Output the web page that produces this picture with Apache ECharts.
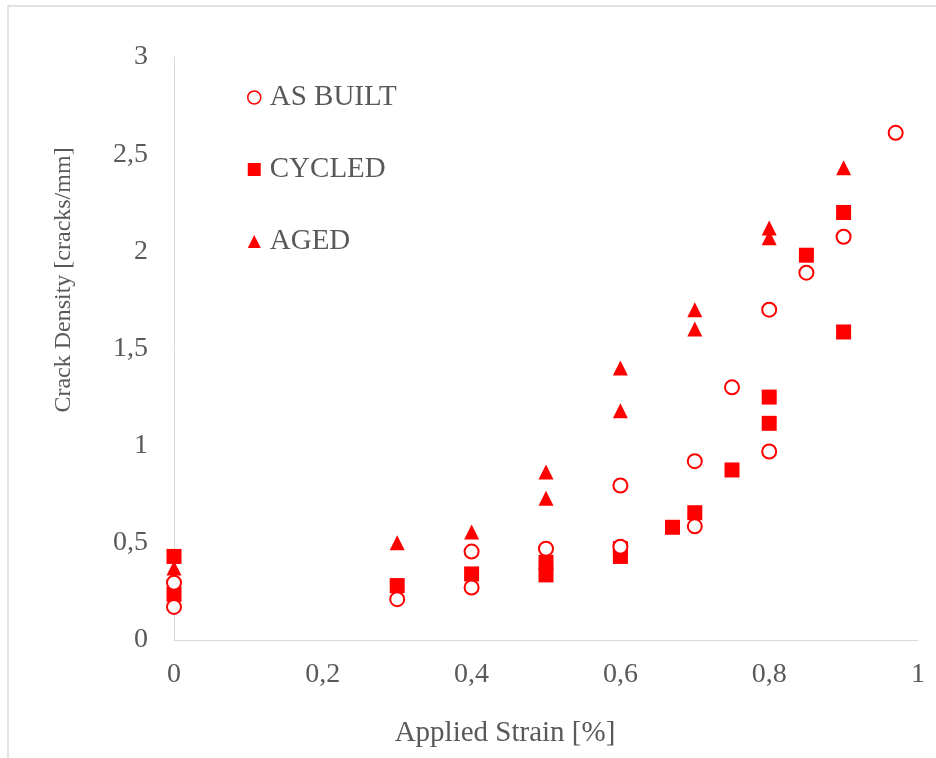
<!DOCTYPE html>
<html>
<head>
<meta charset="utf-8">
<script src="https://cdn.jsdelivr.net/npm/echarts@6/dist/echarts.min.js"></script>
<style>
  html, body { margin: 0; padding: 0; background: #fff; }
  #chart { width: 936px; height: 758px; }
</style>
</head>
<body>
<div id="chart"></div>
<script>
// values (strain %, cracks/mm)
const asBuilt = [[0, 0.17], [0, 0.295], [0.3, 0.21], [0.4, 0.27], [0.4, 0.455], [0.5, 0.47], [0.6, 0.48], [0.6, 0.795], [0.7, 0.585], [0.7, 0.92], [0.75, 1.30], [0.8, 0.97], [0.8, 1.70], [0.85, 1.89], [0.9, 2.075], [0.97, 2.61]]
const cycled = [[0, 0.235], [0, 0.43], [0.3, 0.28], [0.4, 0.34], [0.5, 0.335], [0.5, 0.40], [0.6, 0.43], [0.6, 0.47], [0.67, 0.58], [0.7, 0.655], [0.75, 0.875], [0.8, 1.115], [0.8, 1.25], [0.85, 1.98], [0.9, 1.585], [0.9, 2.20]]
const aged = [[0, 0.37], [0.3, 0.50], [0.4, 0.556], [0.5, 0.73], [0.5, 0.865], [0.6, 1.18], [0.6, 1.40], [0.7, 1.60], [0.7, 1.70], [0.8, 2.07], [0.8, 2.12], [0.9, 2.43]]
const seriesNames = ['AS BUILT', 'CYCLED', 'AGED']

const FONT = 'Liberation Serif'
const GREY = '#595959'
const RED = '#ff0000'
const comma = v => String(v).replace('.', ',')

let myChart = echarts.init(document.getElementById('chart'))
myChart.setOption({
    backgroundColor: '#fff',
    animation: false,
    grid: { left: 174, top: 57, right: 18, bottom: 118 },
    legend: {
        orient: 'vertical',
        left: 242,
        top: 78,
        itemWidth: 13,
        itemHeight: 13,
        itemGap: 43,
        textStyle: { fontFamily: FONT, fontSize: 29, color: GREY, lineHeight: 28, padding: [0, 0, 0, 4] },
        data: [
            { name: seriesNames[0], icon: 'circle', itemStyle: { color: '#fff', borderColor: RED, borderWidth: 1.5, opacity: 1 } },
            { name: seriesNames[1], icon: 'rect', itemStyle: { opacity: 1 } },
            { name: seriesNames[2], icon: 'triangle', itemStyle: { opacity: 1 } }
        ]
    },
    xAxis: {
        type: 'value',
        min: 0,
        max: 1,
        interval: 0.2,
        splitLine: { show: false },
        axisTick: { show: false },
        axisLine: { lineStyle: { color: '#d9d9d9', width: 1 } },
        axisLabel: { fontFamily: FONT, fontSize: 28, color: GREY, margin: 21, formatter: comma }
    },
    yAxis: {
        type: 'value',
        min: 0,
        max: 3,
        interval: 0.5,
        splitLine: { show: false },
        axisTick: { show: false },
        axisLine: { show: true, lineStyle: { color: '#d9d9d9', width: 1 } },
        axisLabel: { fontFamily: FONT, fontSize: 28, color: GREY, margin: 26, formatter: comma }
    },
    graphic: [
        {
            // chart area frame (only top/left edges fall inside the window)
            type: 'rect',
            shape: { x: 8, y: 6, width: 1000, height: 1000 },
            style: { fill: 'none', stroke: '#d9d9d9', lineWidth: 1.5 },
            silent: true
        },
        {
            type: 'text',
            x: 505,
            y: 733,
            style: { text: 'Applied Strain [%]', font: '29px "Liberation Serif"', fill: GREY, align: 'center', verticalAlign: 'middle' }
        },
        {
            type: 'text',
            x: 64,
            y: 280,
            rotation: Math.PI / 2,
            style: { text: 'Crack Density [cracks/mm]', font: '24px "Liberation Serif"', fill: GREY, align: 'center', verticalAlign: 'middle' }
        }
    ],
    series: [
        {
            name: seriesNames[0],
            type: 'scatter',
            symbol: 'emptyCircle',
            symbolSize: 14,
            itemStyle: { color: RED, borderColor: RED, borderWidth: 1.5, opacity: 1 },
            data: asBuilt,
            z: 3
        },
        {
            name: seriesNames[1],
            type: 'scatter',
            symbol: 'rect',
            symbolSize: 15,
            itemStyle: { color: RED, opacity: 1 },
            data: cycled,
            z: 2
        },
        {
            name: seriesNames[2],
            type: 'scatter',
            symbol: 'triangle',
            symbolSize: 15,
            itemStyle: { color: RED, opacity: 1 },
            data: aged,
            z: 2
        }
    ]
})
</script>
</body>
</html>
